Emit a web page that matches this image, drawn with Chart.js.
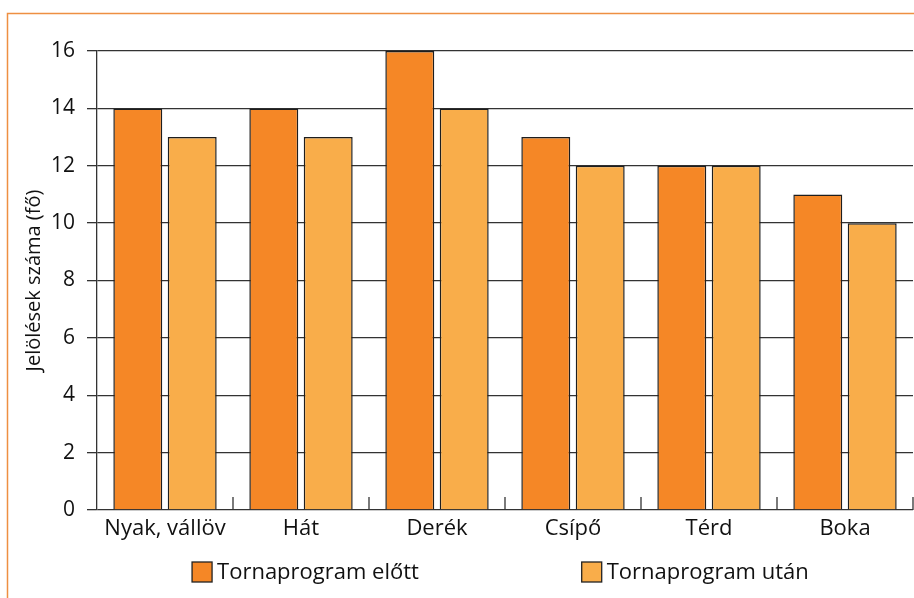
<!DOCTYPE html>
<html lang="hu">
<head>
<meta charset="utf-8">
<title>Jelölések száma testtájanként</title>
<script src="https://cdn.jsdelivr.net/npm/chart.js@4.4.1/dist/chart.umd.min.js"></script>
<style>
  html, body { margin: 0; padding: 0; background: #fff; }
  #chart { display: block; }
</style>
</head>
<body>
<canvas id="chart" width="914" height="598"></canvas>
<script>
// Body regions
const categories = ['Nyak, vállöv', 'Hát', 'Derék', 'Csípő', 'Térd', 'Boka'];
// Number of marks per region, before and after the exercise programme
const beforeValues = [14, 14, 16, 13, 12, 11];
const afterValues = [13, 13, 14, 12, 12, 10];
const seriesNames = ['Tornaprogram előtt', 'Tornaprogram után'];
const yTickValues = [0, 2, 4, 6, 8, 10, 12, 14, 16];
const yTitle = 'Jelölések száma (fő)';

const FONT = '"Open Sans", "Noto Sans", sans-serif';
const INK = '#333333';

// Thin orange frame along the top and left edge of the figure
const figureFrame = {
  id: 'figureFrame',
  beforeDraw(chart) {
    const ctx = chart.ctx;
    ctx.save();
    ctx.fillStyle = '#ffffff';
    ctx.fillRect(0, 0, chart.width, chart.height);
    ctx.strokeStyle = '#EE8F42';
    ctx.lineWidth = 1.5;
    ctx.beginPath();
    ctx.moveTo(7.5, chart.height);
    ctx.lineTo(7.5, 13.5);
    ctx.lineTo(chart.width, 13.5);
    ctx.stroke();
    ctx.restore();
  }
};

// Small upward tick marks on the category axis, at the category boundaries
const categoryTicks = {
  id: 'categoryTicks',
  afterDatasetsDraw(chart) {
    const x = chart.scales.x, y = chart.scales.y;
    const ctx = chart.ctx;
    const base = y.getPixelForValue(0);
    ctx.save();
    ctx.strokeStyle = INK;
    ctx.lineWidth = 1.3;
    for (let i = 1; i <= categories.length; i++) {
      const px = i < categories.length
        ? (x.getPixelForValue(i - 1) + x.getPixelForValue(i)) / 2
        : chart.chartArea.right;
      ctx.beginPath();
      ctx.moveTo(px, base);
      ctx.lineTo(px, base - 13);
      ctx.stroke();
    }
    ctx.restore();
  }
};

// Legend row drawn under the category labels
const legendRow = {
  id: 'legendRow',
  afterDraw(chart) {
    const ctx = chart.ctx;
    const area = chart.chartArea;
    const cy = chart.height - 26;
    const starts = [0.1165, 0.594];
    ctx.save();
    ctx.font = '22px ' + FONT;
    ctx.textBaseline = 'middle';
    chart.data.datasets.forEach((ds, i) => {
      const box = 20, gap = 5;
      const left = area.left + area.width * starts[i];
      ctx.fillStyle = ds.backgroundColor;
      ctx.fillRect(left, cy - box / 2, box, box);
      ctx.strokeStyle = '#222';
      ctx.lineWidth = 1.3;
      ctx.strokeRect(left, cy - box / 2, box, box);
      ctx.fillStyle = '#111';
      ctx.fillText(ds.label, left + box + gap, cy + 1);
    });
    ctx.restore();
  }
};

new Chart(document.getElementById('chart'), {
  type: 'bar',
  data: {
    labels: categories,
    datasets: [
      {
        label: seriesNames[0],
        data: beforeValues,
        backgroundColor: '#F58726',
        borderColor: '#1e1e1e',
        borderWidth: 1.5,
        categoryPercentage: 0.8,
        barPercentage: 0.9
      },
      {
        label: seriesNames[1],
        data: afterValues,
        backgroundColor: '#F9AD4A',
        borderColor: '#1e1e1e',
        borderWidth: 1.5,
        categoryPercentage: 0.8,
        barPercentage: 0.9
      }
    ]
  },
  options: {
    responsive: false,
    animation: false,
    layout: { padding: { left: 7, top: 51, right: 1, bottom: 0 } },
    plugins: {
      legend: { display: false },
      tooltip: { enabled: false },
      title: { display: false }
    },
    scales: {
      x: {
        grid: { display: false, drawTicks: false },
        border: { display: false },
        ticks: {
          color: '#111',
          padding: 6,
          maxRotation: 0,
          font: { family: FONT, size: 22 }
        },
        afterFit(scale) { scale.height = 88; }
      },
      y: {
        min: 0,
        max: 16,
        afterBuildTicks(scale) {
          scale.ticks = yTickValues.map(v => ({ value: v }));
        },
        grid: {
          color: INK,
          lineWidth: 1.3,
          tickLength: 10,
          drawTicks: true
        },
        border: { display: true, color: INK, width: 1.3 },
        ticks: {
          color: '#111',
          padding: 12,
          font: { family: FONT, size: 21 }
        },
        title: {
          display: true,
          text: yTitle,
          color: '#111',
          padding: { top: 15, bottom: 0 },
          font: { family: FONT, size: 20 }
        },
        afterFit(scale) { scale.width = 90; }
      }
    }
  },
  plugins: [figureFrame, categoryTicks, legendRow]
});
</script>
</body>
</html>
